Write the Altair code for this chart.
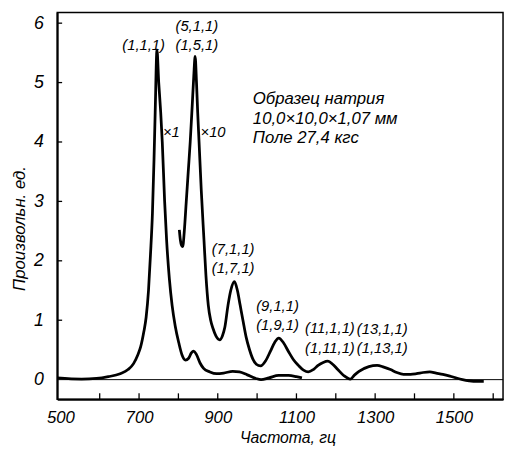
import altair as alt
import pandas as pd

# x1 curve (freq, amplitude)
x1_freq = [492, 554, 592, 622, 652, 672, 686, 697, 704, 712, 718, 724, 729, 734, 738, 741, 745.5,
           750, 755, 759, 765, 770, 777, 784, 792, 801, 809, 818, 826, 833, 839, 846, 855, 864,
           880, 897, 915, 938, 955, 975, 997, 1010, 1030, 1055, 1080, 1100, 1114]
x1_amp = [0.03, 0.01, 0.02, 0.05, 0.10, 0.17, 0.27, 0.42, 0.55, 0.80, 1.05, 1.5, 2.1, 2.8, 3.7, 4.5, 5.55,
          5.0, 4.5, 4.0, 3.0, 2.35, 1.7, 1.25, 0.9, 0.62, 0.42, 0.33, 0.36, 0.45, 0.48, 0.42, 0.28, 0.19,
          0.13, 0.10, 0.11, 0.14, 0.13, 0.08, 0.02, 0.0, 0.03, 0.07, 0.07, 0.05, 0.03]

# x10 curve
x10_freq = [802.4, 805, 808, 811, 815, 820, 825, 830, 835, 839, 842.5, 846, 849, 852.5, 858, 865, 870,
            876, 882, 888, 895, 905, 912, 918, 926, 933, 942.5, 950, 957, 964, 972, 980, 989, 998,
            1009, 1022, 1034, 1045, 1055, 1067, 1080, 1092, 1105, 1118, 1130, 1143, 1155, 1168, 1180,
            1192, 1205, 1220, 1237, 1248, 1259, 1284, 1305, 1322, 1339, 1355, 1372, 1390, 1405, 1422,
            1439, 1455, 1472, 1490, 1505, 1522, 1539, 1560, 1576]
x10_amp = [2.52, 2.35, 2.26, 2.24, 2.5, 3.0, 3.5, 4.0, 4.6, 5.1, 5.44, 5.0, 4.5, 4.0, 3.2, 2.35, 1.75,
           1.25, 1.0, 0.86, 0.74, 0.67, 0.74, 0.88, 1.25, 1.5, 1.65, 1.5, 1.25, 1.0, 0.72, 0.52, 0.35, 0.26,
           0.23, 0.32, 0.48, 0.63, 0.70, 0.62, 0.47, 0.34, 0.24, 0.16, 0.13, 0.17, 0.24, 0.29, 0.31,
           0.26, 0.17, 0.07, 0.01, 0.08, 0.14, 0.22, 0.24, 0.21, 0.17, 0.12, 0.09, 0.09, 0.10, 0.12,
           0.13, 0.11, 0.09, 0.06, 0.03, 0.0, -0.02, -0.03, -0.03]

x_label_values = [500, 700, 900, 1100, 1300, 1500]
x_tick_values = [600, 700, 800, 900, 1000, 1100, 1200, 1300, 1400, 1500, 1600]
y_label_values = [0, 1, 2, 3, 4, 5, 6]
y_tick_values = [1, 2, 3, 4, 5, 6]

ann_text = ["(1,1,1)", "(5,1,1)", "(1,5,1)", "×1", "×10", "(7,1,1)", "(1,7,1)",
            "(9,1,1)", "(1,9,1)", "(11,1,1)", "(1,11,1)", "(13,1,1)", "(1,13,1)"]
ann_x = [711.6, 846.7, 846.7, 782.0, 888.0, 939.2, 939.2, 1051.8, 1051.8, 1185.0, 1185.0, 1318.0, 1318.0]
ann_y = [5.63, 5.95, 5.63, 4.17, 4.17, 2.19, 1.87, 1.23, 0.91, 0.86, 0.53, 0.85, 0.53]

info_lines = ["Образец  натрия", "10,0×10,0×1,07 мм", "Поле 27,4 кгс"]
info_x = [989.2, 989.2, 989.2]
info_y = [4.72, 4.39, 4.07]

FONT = "Liberation Sans"

xs = alt.Scale(domain=[492, 1625], nice=False, zero=False)
ys = alt.Scale(domain=[-0.33, 6.18], nice=False, zero=False)

df1 = pd.DataFrame({"f": x1_freq, "a": x1_amp})
df10 = pd.DataFrame({"f": x10_freq, "a": x10_amp})

xaxis = alt.Axis(values=x_label_values, format="d", ticks=False, tickSize=0, grid=False, domainWidth=2,
                 domainColor="black", labelFont=FONT, labelFontStyle="italic", labelFontSize=17,
                 labelColor="black", labelPadding=11, labelFlush=False, labelOverlap=False,
                 title="Частота, гц", titleFont=FONT, titleFontStyle="italic", titleFontWeight="normal",
                 titleFontSize=16, titleColor="black", titleX=234, titleY=39, titleBaseline="middle",
                 titleAlign="center")
yaxis = alt.Axis(values=y_label_values, format="d", ticks=False, tickSize=0, grid=False, domainWidth=2,
                 domainColor="black", labelFont=FONT, labelFontStyle="italic", labelFontSize=18,
                 labelColor="black", labelPadding=14, labelFlush=False, labelOverlap=False,
                 title="Произвольн. ед.", titleFont=FONT, titleFontStyle="italic",
                 titleFontWeight="normal", titleFontSize=17, titleColor="black", titleX=-38,
                 titleY=219, titleAngle=-90, titleBaseline="middle", titleAlign="center")

line1 = alt.Chart(df1).mark_line(color="black", strokeWidth=2.8, interpolate="monotone").encode(
    x=alt.X("f:Q", scale=xs, axis=xaxis), y=alt.Y("a:Q", scale=ys, axis=yaxis))
line10 = alt.Chart(df10).mark_line(color="black", strokeWidth=2.8, interpolate="monotone").encode(
    x=alt.X("f:Q", scale=xs), y=alt.Y("a:Q", scale=ys))

zero = alt.Chart(pd.DataFrame({"z": [0]})).mark_rule(color="black", strokeWidth=1).encode(
    y=alt.Y("z:Q", scale=ys))

xt = alt.Chart(pd.DataFrame({"t": x_tick_values})).mark_rule(color="black", strokeWidth=1.3).encode(
    x=alt.X("t:Q", scale=xs), y=alt.value(393), y2=alt.value(387))
yt = alt.Chart(pd.DataFrame({"t": y_tick_values})).mark_rule(color="black", strokeWidth=1.3).encode(
    y=alt.Y("t:Q", scale=ys), x=alt.value(0), x2=alt.value(5))

ann = alt.Chart(pd.DataFrame({"t": ann_text, "x": ann_x, "y": ann_y})).mark_text(
    font=FONT, fontStyle="italic", fontSize=15, align="center", baseline="middle", color="black").encode(
    x=alt.X("x:Q", scale=xs), y=alt.Y("y:Q", scale=ys), text="t:N")

info = alt.Chart(pd.DataFrame({"t": info_lines, "x": info_x, "y": info_y})).mark_text(
    font=FONT, fontStyle="italic", fontSize=17, align="left", baseline="middle", color="black").encode(
    x=alt.X("x:Q", scale=xs), y=alt.Y("y:Q", scale=ys), text="t:N")

chart = alt.layer(zero, line1, line10, xt, yt, ann, info).properties(
    width=453, height=393,
    autosize=alt.AutoSizeParams(type="none"),
    padding={"left": 50, "top": 1, "right": 2, "bottom": 46},
    background="white",
).configure_view(stroke="black", strokeWidth=1.5)

chart.save("out.html", embed_options={"renderer": "svg", "actions": False})
